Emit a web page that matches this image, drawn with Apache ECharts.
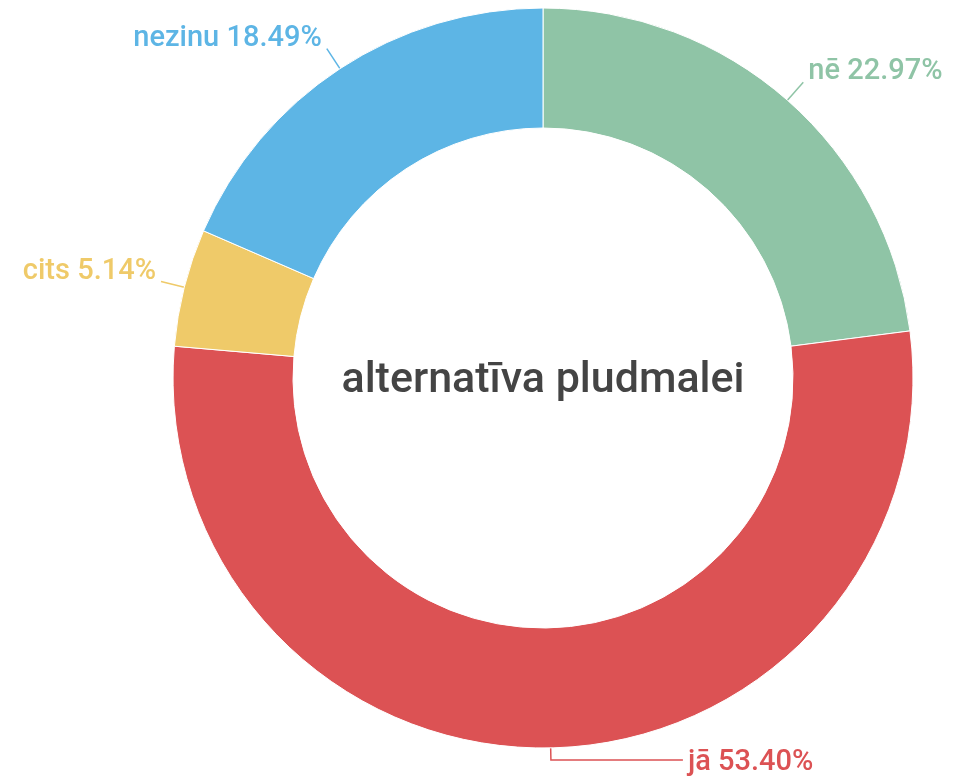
<!DOCTYPE html>
<html>
<head>
<meta charset="utf-8">
<script src="https://cdn.jsdelivr.net/npm/echarts@6/dist/echarts.min.js"></script>
<style>
html, body { margin: 0; padding: 0; background: #fff; }
#chart { width: 953px; height: 779px; }
</style>
</head>
<body>
<div id="chart"></div>
<script>
// dati
var categories = ['nē', 'jā', 'cits', 'nezinu'];
var values = [22.97, 53.40, 5.14, 18.49];
var colors = ['#8fc4a6', '#dc5254', '#efca69', '#5db5e5'];
var centerTitle = 'alternatīva pludmalei';

var pieData = categories.map(function(name, i) {
	var item = {
		name: name,
		value: values[i],
		itemStyle: { color: colors[i] },
		label: { color: colors[i] },
		labelLine: { lineStyle: { color: colors[i] } }
	};
	if (name == 'jā') {
		// apakšējā etiķete - garāka horizontālā līnija
		item.labelLine.length = 12;
		item.labelLine.length2 = 132;
	}
	return item;
});

var _chart = echarts.init(document.getElementById('chart'));
_chart.setOption({
	animation: false,
	graphic: [{
		type: 'text',
		x: 543,
		y: 381,
		style: {
			text: centerTitle,
			align: 'center',
			verticalAlign: 'middle',
			fill: '#444444',
			fontFamily: 'Roboto',
			fontWeight: 500,
			fontSize: 43
		}
	}],
	series: [{
		type: 'pie',
		center: [543, 378],
		radius: [250, 370],
		startAngle: 90,
		clockwise: true,
		avoidLabelOverlap: false,
		itemStyle: {
			borderColor: '#ffffff',
			borderWidth: 1
		},
		label: {
			show: true,
			formatter: function(p) {
				return p.name + ' ' + p.value.toFixed(2) + '%';
			},
			fontFamily: 'Roboto',
			fontWeight: 500,
			fontSize: 29
		},
		labelLine: {
			show: true,
			length: 24,
			length2: 0,
			lineStyle: { width: 1.5 }
		},
		labelLayout: function(params) {
			// etiķetes nedaudz virs līnijas gala
			if (params.dataIndex == 1) return { dy: 3 };
			return { dy: -10 };
		},
		data: pieData
	}]
});
</script>
</body>
</html>
